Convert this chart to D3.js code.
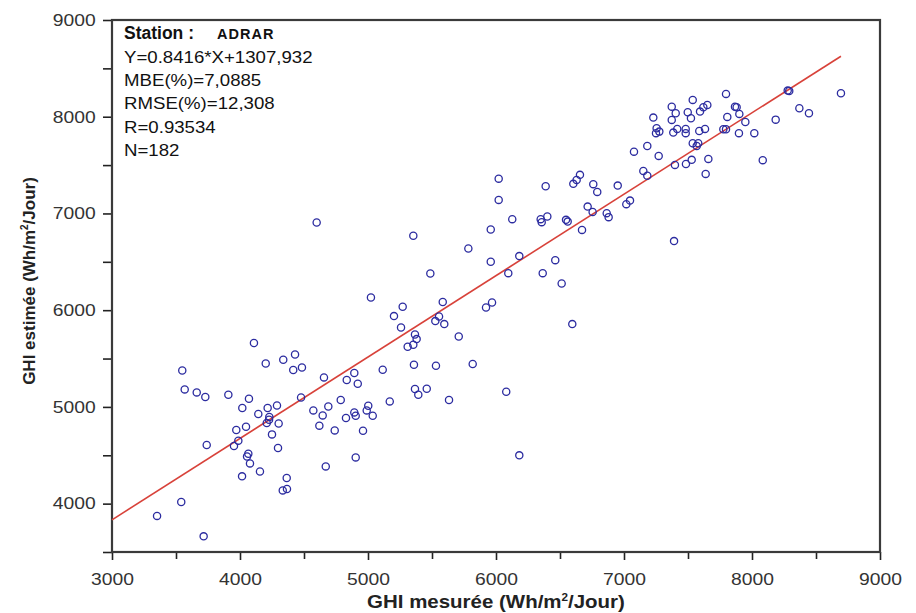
<!DOCTYPE html>
<html>
<head>
<meta charset="utf-8">
<script src="https://cdn.jsdelivr.net/npm/d3@7/dist/d3.min.js"></script>
<style>
  body { margin: 0; background: #fff; }
  svg text { font-family: "Liberation Sans", Arial, sans-serif; }
</style>
</head>
<body>
<div id="chart"></div>
<script>
// GHI mesurée (x) / GHI estimée (y), Wh/m2/Jour
var ghiMesuree = [
	4109, 4201, 4338, 4430, 3549, 4416, 4484, 4656, 4834, 3568, 3662, 3729, 3909, 4070, 4477, 4787,
	4018, 4216, 4289, 4573, 4690, 4143, 4229, 4646, 4828, 4209, 4302, 4047, 4620, 3971, 4740, 4250,
	3987, 3953, 3740, 4297, 4065, 4055, 4078, 4156, 4670, 4016, 4365, 4334, 4367, 3541, 3352, 3716, 4227,
	4599, 5354, 6021, 5959, 6127, 6349, 6357, 6401, 5784, 5959, 6182, 6096, 6365, 5487, 5023, 5271,
	5203, 5584, 5922, 5969, 5258, 5555, 5526, 5596, 5709, 5367, 5380, 5354, 5310, 4893, 4920, 5115,
	5359, 5531, 5818, 4893, 4904, 5002, 4990, 5037, 4961, 5170, 5367, 5393, 5459, 5633, 6080, 4904, 6182, 6021,
	7078, 7271, 6388, 6604, 6656, 6630, 6760, 6791, 6951, 7151, 7182, 7398, 7484, 7529, 7659, 7638,
	6560, 6547, 6716, 6755, 6865, 6880, 7018, 7047, 6672, 6463, 6513, 7391, 6596,
	7797, 8279, 8291, 8695, 7537, 7373, 7404, 7373, 7498, 7523, 7594, 7620, 7651, 7867, 7880, 7901,
	7807, 7948, 7229, 7255, 7276, 7250, 7385, 7416, 7482, 7482, 7588, 7633, 7776, 7797, 7898, 8018,
	8185, 8370, 8445, 7182, 7537, 7580, 7568, 8084
];
var ghiEstimee = [
	5660, 5449, 5487, 5542, 5377, 5381, 5408, 5305, 5278, 5181, 5150, 5102, 5126, 5085, 5098, 5071,
	4988, 4988, 5015, 4964, 5005, 4926, 4896, 4912, 4885, 4834, 4829, 4795, 4806, 4761, 4757, 4716,
	4651, 4596, 4606, 4575, 4516, 4488, 4416, 4333, 4385, 4282, 4265, 4137, 4152, 4017, 3873, 3662, 4868,
	6906, 6769, 7140, 6834, 6941, 6941, 6910, 6968, 6637, 6500, 6559, 6383, 6383, 6379, 6131, 6035,
	5939, 6084, 6028, 6079, 5821, 5935, 5887, 5856, 5728, 5749, 5701, 5642, 5622, 5350, 5240, 5384,
	5436, 5426, 5443, 4943, 4909, 5012, 4964, 4909, 4754, 5057, 5185, 5126, 5188, 5071, 5157, 4478, 4499, 7360,
	7639, 7595, 7282, 7306, 7399, 7347, 7303, 7223, 7288, 7440, 7391, 7502, 7512, 7554, 7564, 7409,
	6916, 6934, 7071, 7016, 7003, 6962, 7096, 7133, 6830, 6517, 6276, 6714, 5856,
	8236, 8270, 8267, 8243, 8174, 8104, 8036, 7967, 8046, 7984, 8053, 8098, 8122, 8104, 8098, 8029,
	7998, 7946, 7991, 7881, 7846, 7830, 7836, 7874, 7874, 7830, 7853, 7874, 7871, 7871, 7830, 7830,
	7970, 8088, 8036, 7698, 7726, 7726, 7698, 7551
];

var xMajorTicks = [3000, 4000, 5000, 6000, 7000, 8000, 9000];
var xMinorTicks = [3500, 4500, 5500, 6500, 7500, 8500];
var yMajorTicks = [4000, 5000, 6000, 7000, 8000, 9000];
var yMinorTicks = [3500, 4500, 5500, 6500, 7500, 8500];

var fitSlope = 0.8416,
	fitIntercept = 1307.932;

var statsLines = [
	'Y=0.8416*X+1307,932',
	'MBE(%)=7,0885',
	'RMSE(%)=12,308',
	'R=0.93534',
	'N=182'
];

var width = 916,
	height = 613,
	plotLeft = 112,
	plotRight = 880,
	plotTop = 20,
	plotBottom = 552,
	stretch = 'scale(1.17,1)';

var svg = d3.select('#chart').append('svg')
	.attr('width', width)
	.attr('height', height);

var x = d3.scaleLinear().domain([3000, 9000]).range([plotLeft, plotRight]);
var y = d3.scaleLinear().domain([3500, 9000]).range([plotBottom, plotTop]);

//Ticks (major with labels, minor without)
svg.append('g').attr('transform', 'translate(0,' + plotBottom + ')')
	.call(d3.axisBottom(x).tickValues(xMajorTicks).tickSize(8).tickPadding(13).tickFormat(d3.format('d')));
svg.append('g').attr('transform', 'translate(0,' + plotBottom + ')')
	.call(d3.axisBottom(x).tickValues(xMinorTicks).tickSize(7).tickFormat(''));
svg.append('g').attr('transform', 'translate(' + plotLeft + ',0)')
	.call(d3.axisLeft(y).tickValues(yMajorTicks).tickSize(9).tickPadding(5).tickFormat(d3.format('d')));
svg.append('g').attr('transform', 'translate(' + plotLeft + ',0)')
	.call(d3.axisLeft(y).tickValues(yMinorTicks).tickSize(9).tickFormat(''));

svg.selectAll('.domain').remove();
svg.selectAll('.tick line').attr('stroke', '#222').attr('stroke-width', 1.6);
svg.selectAll('.tick text')
	.attr('fill', '#333')
	.attr('font-size', 16.5)
	.attr('transform', stretch);

//Frame
svg.append('rect')
	.attr('x', plotLeft).attr('y', plotTop)
	.attr('width', plotRight - plotLeft).attr('height', plotBottom - plotTop)
	.attr('fill', 'none')
	.attr('stroke', '#3a3a3a')
	.attr('stroke-width', 2.2);

//Regression line
var xEnd = d3.max(ghiMesuree);
svg.append('line')
	.attr('x1', x(3000)).attr('y1', y(fitSlope * 3000 + fitIntercept))
	.attr('x2', x(xEnd)).attr('y2', y(fitSlope * xEnd + fitIntercept))
	.attr('stroke', '#d8423a')
	.attr('stroke-width', 1.6);

//Points
svg.append('g').selectAll('circle')
	.data(d3.range(ghiMesuree.length))
	.enter().append('circle')
	.attr('cx', function(i) { return x(ghiMesuree[i]); })
	.attr('cy', function(i) { return y(ghiEstimee[i]); })
	.attr('r', 3.6)
	.attr('fill', 'none')
	.attr('stroke', '#2c2ca0')
	.attr('stroke-width', 1.3);

//Stats box text
var station = svg.append('text')
	.attr('transform', 'translate(124,39)')
	.attr('font-weight', 'bold')
	.attr('fill', '#111');
station.append('tspan').attr('font-size', 17.5).text('Station :');
station.append('tspan').attr('x', 93).attr('font-size', 14.5).attr('letter-spacing', 1).text('ADRAR');

svg.append('g').selectAll('text')
	.data(statsLines)
	.enter().append('text')
	.attr('transform', function(d, i) { return 'translate(124,' + (63 + i * 23.2) + ') scale(1.13,1)'; })
	.attr('font-size', 16.5)
	.attr('fill', '#111')
	.text(function(d) { return d; });

//Axis titles
var xt = svg.append('text')
	.attr('transform', 'translate(' + ((plotLeft + plotRight) / 2) + ',608) ' + stretch)
	.attr('text-anchor', 'middle')
	.attr('font-size', 17.5)
	.attr('font-weight', 'bold')
	.attr('fill', '#222');
xt.append('tspan').text('GHI mesurée (Wh/m');
xt.append('tspan').attr('dy', -7).attr('font-size', 10).text('2');
xt.append('tspan').attr('dy', 7).text('/Jour)');

var yt = svg.append('text')
	.attr('transform', 'translate(35,281) rotate(-90)')
	.attr('text-anchor', 'middle')
	.attr('font-size', 17)
	.attr('font-weight', 'bold')
	.attr('fill', '#222');
yt.append('tspan').text('GHI estimée (Wh/m');
yt.append('tspan').attr('dy', -7).attr('font-size', 10).text('2');
yt.append('tspan').attr('dy', 7).text('/Jour)');
</script>
</body>
</html>
